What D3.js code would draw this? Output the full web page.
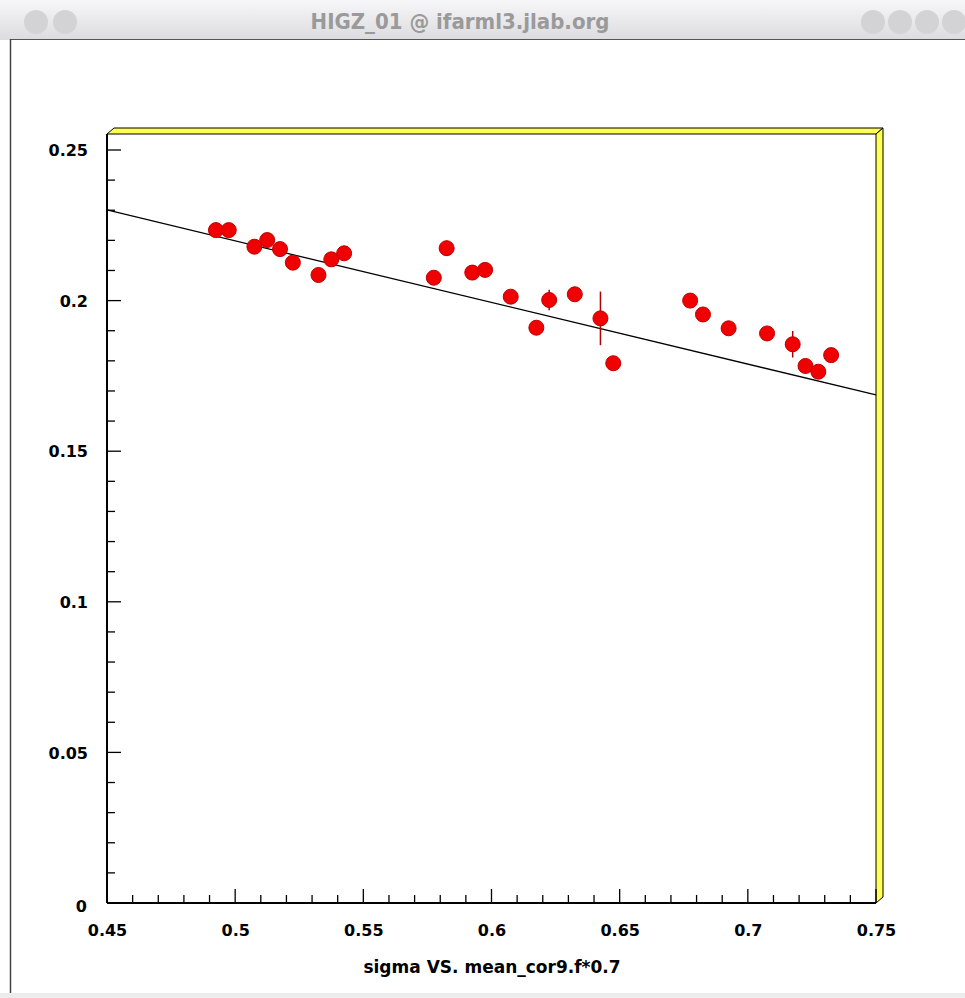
<!DOCTYPE html>
<html>
<head>
<meta charset="utf-8">
<script src="https://cdn.jsdelivr.net/npm/d3@7"></script>
<style>
  body { margin: 0; background: #fff; }
  svg { display: block; }
</style>
</head>
<body>
<svg id="chart" width="965" height="998"></svg>
<script>
// bin centres (x) and fitted sigma values (y)
const xValues = [0.4925, 0.4975, 0.5075, 0.5125, 0.5175, 0.5225, 0.5325, 0.5375, 0.5425,
                 0.5775, 0.5825, 0.5925, 0.5975, 0.6075, 0.6175, 0.6225, 0.6325, 0.6425,
                 0.6475, 0.6775, 0.6825, 0.6925, 0.7075, 0.7175, 0.7225, 0.7275, 0.7325];
const yValues = [0.2234, 0.2234, 0.2179, 0.2201, 0.2171, 0.2126, 0.2085, 0.2137, 0.2157,
                 0.2076, 0.2174, 0.2093, 0.2102, 0.2013, 0.1910, 0.2002, 0.2021, 0.1941,
                 0.1792, 0.2000, 0.1954, 0.1908, 0.1891, 0.1855, 0.1783, 0.1764, 0.1819];
const yErrors = [0.002, 0.002, 0.002, 0.002, 0.002, 0.002, 0.002, 0.002, 0.002,
                 0.002, 0.0025, 0.002, 0.002, 0.002, 0.002, 0.0034, 0.002, 0.0089,
                 0.002, 0.002, 0.002, 0.002, 0.002, 0.0044, 0.002, 0.002, 0.002];
// straight line fit  y = p0 + p1*x
const fitParams = [0.3222, -0.2047];
const xTicks = [0.45, 0.5, 0.55, 0.6, 0.65, 0.7, 0.75];
const yTicks = [0, 0.05, 0.1, 0.15, 0.2, 0.25];
const xTitle = "sigma VS. mean_cor9.f*0.7";
const windowTitle = "HIGZ_01 @ ifarml3.jlab.org";

const svg = d3.select("#chart");
const W = 965, H = 998;

// frame
const frameL = 107, frameR = 876, frameT = 134, frameB = 903;
const depth = 7;

const x = d3.scaleLinear().domain([0.45, 0.75]).range([frameL, frameR]);
const y = d3.scaleLinear().domain([0, 0.25]).range([frameB, 150]);

// window chrome
const grad = svg.append("defs").append("linearGradient")
    .attr("id", "tbar").attr("x1", 0).attr("y1", 0).attr("x2", 0).attr("y2", 1);
grad.append("stop").attr("offset", "0%").attr("stop-color", "#f7f7f9");
grad.append("stop").attr("offset", "100%").attr("stop-color", "#dcdce0");

svg.append("rect").attr("x", 0).attr("y", 0).attr("width", W).attr("height", 40)
    .attr("fill", "url(#tbar)");
svg.append("line").attr("x1", 10).attr("x2", W).attr("y1", 39.5).attr("y2", 39.5)
    .attr("stroke", "#555").attr("stroke-width", 1);
svg.append("line").attr("x1", 10.5).attr("x2", 10.5).attr("y1", 39).attr("y2", 993)
    .attr("stroke", "#444").attr("stroke-width", 1.5);
svg.append("rect").attr("x", 0).attr("y", 993).attr("width", W).attr("height", 5)
    .attr("fill", "#ececec");

[36, 65].forEach(cx => svg.append("circle").attr("cx", cx).attr("cy", 22).attr("r", 12)
    .attr("fill", "#d3d3d6"));
[873, 900, 927, 954].forEach(cx => svg.append("circle").attr("cx", cx).attr("cy", 22).attr("r", 12)
    .attr("fill", "#d3d3d6"));

svg.append("text")
    .attr("x", 460).attr("y", 29)
    .attr("text-anchor", "middle")
    .attr("font-family", "'DejaVu Sans Condensed', 'Liberation Sans Narrow', sans-serif")
    .attr("font-weight", "bold")
    .attr("font-size", 22)
    .attr("fill", "#9a9a9a")
    .text(windowTitle);

// yellow 3D box (top and right walls)
svg.append("polygon")
    .attr("points", [[frameL, frameT], [frameL + depth, frameT - depth + 1], [frameR + depth, frameT - depth + 1], [frameR, frameT]].join(" "))
    .attr("fill", "#ffff55").attr("stroke", "#000").attr("stroke-width", 1);
svg.append("polygon")
    .attr("points", [[frameR, frameT], [frameR + depth, frameT - depth + 1], [frameR + depth, frameB - depth + 1], [frameR, frameB]].join(" "))
    .attr("fill", "#ffff55").attr("stroke", "#000").attr("stroke-width", 1);

// axes
const font = "'DejaVu Sans', 'Liberation Sans', sans-serif";

const xMinor = d3.range(0.45, 0.7501, 0.01);
const yMinor = d3.range(0, 0.2501, 0.01);

const xAxis = svg.append("g").attr("transform", `translate(0,${frameB})`)
    .call(d3.axisBottom(x).tickValues(xTicks).tickSize(0).tickPadding(0).tickFormat(d3.format("")));
xAxis.select(".domain").remove();
xAxis.selectAll("text")
    .attr("y", 22)
    .attr("font-family", font).attr("font-weight", "bold").attr("font-size", 16).attr("fill", "#000");

svg.append("g").selectAll("line").data(xMinor).enter().append("line")
    .attr("x1", d => x(d)).attr("x2", d => x(d))
    .attr("y1", frameB)
    .attr("y2", (d, i) => frameB - (i % 5 === 0 ? 14 : 8))
    .attr("stroke", "#000").attr("stroke-width", 1.3);

const yAxis = svg.append("g").attr("transform", `translate(${frameL},0)`)
    .call(d3.axisLeft(y).tickValues(yTicks).tickSize(0).tickPadding(0).tickFormat(d3.format("")));
yAxis.select(".domain").remove();
yAxis.selectAll("text")
    .attr("x", d => d === 0 ? -20 : -19)
    .attr("dy", d => d === 0 ? "0.55em" : "0.35em")
    .attr("font-family", font).attr("font-weight", "bold").attr("font-size", 16).attr("fill", "#000");

svg.append("g").selectAll("line").data(yMinor).enter().append("line")
    .attr("y1", d => y(d)).attr("y2", d => y(d))
    .attr("x1", frameL)
    .attr("x2", (d, i) => frameL + (i % 5 === 0 ? 14 : 8))
    .attr("stroke", "#000").attr("stroke-width", 1.3);

svg.append("line").attr("x1", frameL).attr("x2", frameL).attr("y1", frameT).attr("y2", frameB)
    .attr("stroke", "#000").attr("stroke-width", 2);
svg.append("line").attr("x1", frameL).attr("x2", frameR).attr("y1", frameB).attr("y2", frameB)
    .attr("stroke", "#000").attr("stroke-width", 2);

svg.append("text")
    .attr("x", 492).attr("y", 973)
    .attr("text-anchor", "middle")
    .attr("font-family", font).attr("font-weight", "bold").attr("font-size", 17)
    .text(xTitle);

// fit line
const fitX = x.domain();
svg.append("line")
    .attr("x1", x(fitX[0])).attr("y1", y(fitParams[0] + fitParams[1] * fitX[0]))
    .attr("x2", x(fitX[1])).attr("y2", y(fitParams[0] + fitParams[1] * fitX[1]))
    .attr("stroke", "#000").attr("stroke-width", 1.3);

// points with error bars
const points = xValues.map((v, i) => ({ x: v, y: yValues[i], e: yErrors[i] }));

svg.append("g").selectAll("line").data(points).enter().append("line")
    .attr("x1", d => x(d.x)).attr("x2", d => x(d.x))
    .attr("y1", d => y(d.y - d.e)).attr("y2", d => y(d.y + d.e))
    .attr("stroke", "#b00000").attr("stroke-width", 1.5);

svg.append("g").selectAll("circle").data(points).enter().append("circle")
    .attr("cx", d => x(d.x)).attr("cy", d => y(d.y))
    .attr("r", 7.5)
    .attr("fill", "#f00000")
    .attr("stroke", "#c00000").attr("stroke-width", 1);
</script>
</body>
</html>
